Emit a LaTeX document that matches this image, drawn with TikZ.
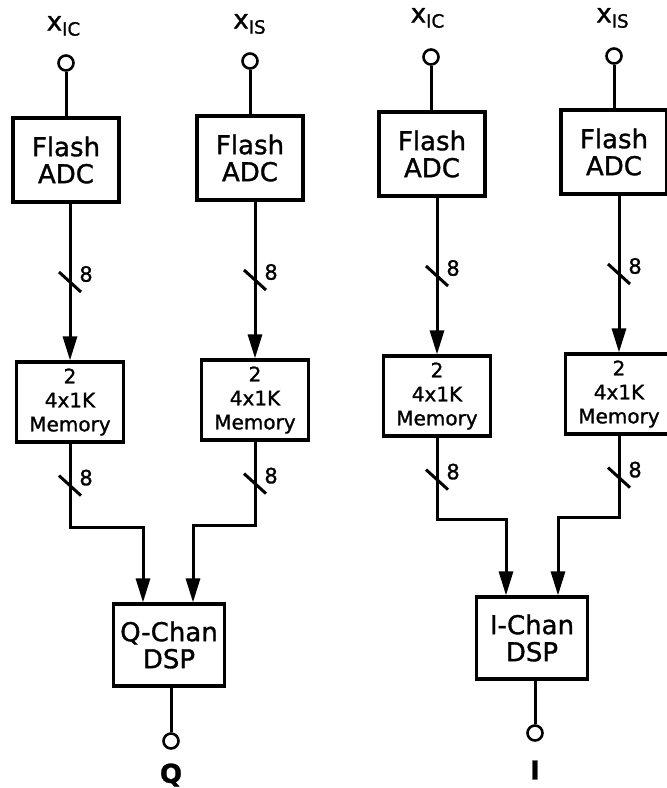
\documentclass[tikz,border=0pt]{standalone}
\usepackage{fontspec}
\setmainfont{DejaVu Sans}[FakeBold=1.2]
\usetikzlibrary{arrows.meta,calc}

\begin{document}
\begin{tikzpicture}[x=0.5pt,y=-0.5pt,
    every node/.style={font=\fontsize{13}{13.5}\selectfont, align=center},
    box/.style={draw, line width=1.6pt, inner sep=0pt},
    adcbox/.style={box, minimum width=53pt, minimum height=42pt},
    membox/.style={box, minimum width=53.5pt, minimum height=40pt,
      font=\fontsize{10}{12}\selectfont},
    dspbox/.style={box, minimum width=55.5pt, minimum height=41pt},
    term/.style={draw, circle, line width=1.3pt, minimum size=7.5pt, inner sep=0pt},
    wire/.style={line width=1.5pt},
    arr/.style={wire, -{Triangle[length=12pt,width=7pt]}},
    bus/.pic={\draw[wire] (-11,-10) -- (11,10);
      \node[anchor=west, inner sep=0pt, font=\fontsize{10.5}{10.5}\selectfont] (-w) at (9,-8) {8};}]
    \useasboundingbox (0,0) rectangle (666,788);
    % Q channel
    \node (lQc) at (64,26) {x\textsubscript{IC}};
    \node (lQs) at (250,24) {x\textsubscript{IS}};
    \node[term] (inQc) at (66,63) {};
    \node[term] (inQs) at (250,61) {};
    \node[adcbox] (adcQc) at (66,160) {Flash\\ADC};
    \node[adcbox] (adcQs) at (250,158) {Flash\\ADC};
    \node[membox] (memQc) at (70,402) {2\\4x1K\\Memory};
    \node[membox] (memQs) at (255,400) {2\\4x1K\\Memory};
    \node[dspbox] (dspQ) at (169,645) {Q-Chan\\DSP};
    \node[term] (outQ) at (171,741) {};
    \node[font=\bfseries\fontsize{13}{13}\selectfont] (lQ) at (171,775) {Q};
    % I channel
    \node (lIc) at (428,18) {x\textsubscript{IC}};
    \node (lIs) at (613,18) {x\textsubscript{IS}};
    \node[term] (inIc) at (431,57) {};
    \node[term] (inIs) at (614,56) {};
    \node[adcbox] (adcIc) at (432,154) {Flash\\ADC};
    \node[adcbox] (adcIs) at (614,152) {Flash\\ADC};
    \node[membox] (memIc) at (437,396) {2\\4x1K\\Memory};
    \node[membox] (memIs) at (619,394) {2\\4x1K\\Memory};
    \node[dspbox] (dspI) at (532,638) {I-Chan\\DSP};
    \node[term] (outI) at (535,733) {};
    \node[font=\bfseries\fontsize{13}{13}\selectfont] (lI) at (535,770) {I};
    % inputs and ADC to memory
    \foreach \c in {Qc,Qs,Ic,Is} {
      \draw[wire] (in\c) -- (in\c |- adc\c.north);
      \draw[arr] (adc\c.south -| mem\c.north) -- (mem\c.north);
      \pic (ta\c) at ($(adc\c.south -| mem\c.north)!0.5!(mem\c.north)$) {bus};
      \pic (tb\c) at ($(mem\c.south)+(0,42)$) {bus};
    }
    \coordinate (jQc) at ([xshift=-13pt]dspQ.north);
    \coordinate (jQs) at ([xshift=12pt]dspQ.north);
    \coordinate (jIc) at ([xshift=-13pt]dspI.north);
    \coordinate (jIs) at ([xshift=13pt]dspI.north);
    \draw[arr] (memQc.south) -- ++(0,84) -| (jQc);
    \draw[arr] (memQs.south) -- ++(0,84) -| (jQs);
    \draw[arr] (memIc.south) -- ++(0,82) -| (jIc);
    \draw[arr] (memIs.south) -- ++(0,82) -| (jIs);
    \draw[wire] (dspQ.south -| outQ) -- (outQ);
    \draw[wire] (dspI.south -| outI) -- (outI);
\end{tikzpicture}
\end{document}
